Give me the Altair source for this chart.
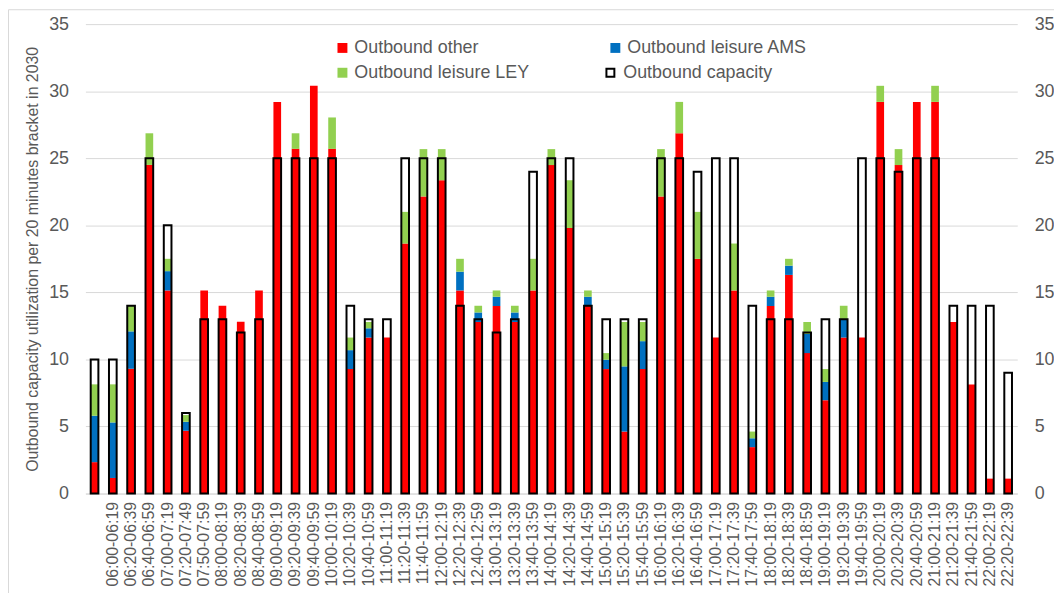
import altair as alt
import pandas as pd

# Time slots (first bar carries no label in the reference)
slots = [" ",
         "06:00-06:19", "06:20-06:39", "06:40-06:59", "07:00-07:19", "07:20-07:49", "07:50-07:59",
         "08:00-08:19", "08:20-08:39", "08:40-08:59", "09:00-09:19", "09:20-09:39", "09:40-09:59",
         "10:00-10:19", "10:20-10:39", "10:40-10:59", "11:00-11:19", "11:20-11:39", "11:40-11:59",
         "12:00-12:19", "12:20-12:39", "12:40-12:59", "13:00-13:19", "13:20-13:39", "13:40-13:59",
         "14:00-14:19", "14:20-14:39", "14:40-14:59", "15:00-15:19", "15:20-15:39", "15:40-15:59",
         "16:00-16:19", "16:20-16:39", "16:40-16:59", "17:00-17:19", "17:20-17:39", "17:40-17:59",
         "18:00-18:19", "18:20-18:39", "18:40-18:59", "19:00-19:19", "19:20-19:39", "19:40-19:59",
         "20:00-20:19", "20:20-20:39", "20:40-20:59", "21:00-21:19", "21:20-21:39", "21:40-21:59",
         "22:00-22:19", "22:20-22:39"]

outbound_other = [2.34, 1.16, 9.3, 24.5, 15.14, 4.68, 15.14, 14.0, 12.8, 15.14,
                  29.2, 25.7, 30.4, 25.7, 9.28, 11.63, 11.63, 18.64, 22.15, 23.36,
                  15.14, 12.79, 13.98, 12.79, 15.14, 24.49, 19.8, 13.98, 9.28, 4.62,
                  9.28, 22.15, 26.86, 17.5, 11.63, 15.14, 3.46, 13.98, 16.3, 10.47,
                  6.96, 11.63, 11.63, 29.2, 24.49, 29.2, 29.2, 12.79, 8.12, 1.11,
                  1.11]

leisure_ams = [3.46, 4.14, 2.79, 0, 1.44, 0.67, 0, 0, 0, 0,
               0, 0, 0, 0, 1.41, 0.69, 0, 0, 0, 0,
               1.4, 0.71, 0.69, 0.71, 0, 0, 0, 0.69, 0.7, 4.86,
               2.08, 0, 0, 0, 0, 0, 0.66, 0.69, 0.69, 1.43,
               1.36, 1.32, 0, 0, 0, 0, 0, 0, 0, 0,
               0]

leisure_ley = [2.34, 2.84, 1.91, 2.36, 0.92, 0.5, 0, 0, 0, 0,
               0, 1.16, 0, 2.34, 0.94, 0.47, 0, 2.36, 3.53, 2.32,
               0.96, 0.5, 0.47, 0.5, 2.36, 1.19, 3.56, 0.47, 0.49, 3.31,
               1.43, 3.53, 2.34, 3.5, 0, 3.5, 0.5, 0.47, 0.51, 0.89,
               0.96, 1.05, 0, 1.2, 1.19, 0, 1.2, 0, 0, 0,
               0]

capacity = [10, 10, 14, 25, 20, 6, 13, 13, 12, 13,
            25, 25, 25, 25, 14, 13, 13, 25, 25, 25,
            14, 13, 12, 13, 24, 25, 25, 14, 13, 13,
            13, 25, 25, 24, 25, 25, 14, 13, 13, 12,
            13, 13, 25, 25, 24, 25, 25, 14, 14, 14,
            9]

series_names = ["Outbound other", "Outbound leisure AMS", "Outbound leisure LEY"]
series_colors = ["#FF0000", "#0070C0", "#92D050"]
y_ticks = [0, 5, 10, 15, 20, 25, 30, 35]

rows = []
for i, s in enumerate(slots):
    for k, vals in enumerate([outbound_other, leisure_ams, leisure_ley]):
        rows.append({"slot": s, "series": series_names[k], "ord": k, "value": vals[i]})
stack_df = pd.DataFrame(rows)
cap_df = pd.DataFrame({"slot": slots, "capacity": capacity, "kind": ["Outbound capacity"] * len(slots)})

TEXT = "#595959"
GRID = "#D9D9D9"
FONT = "Liberation Sans"

x_enc = alt.X("slot:N", sort=slots,
              scale=alt.Scale(paddingInner=0.58, paddingOuter=0.29),
              axis=alt.Axis(title=None, labelAngle=270, labelFontSize=16, labelColor=TEXT,
                            labelPadding=8, ticks=False, domainColor=GRID, domainWidth=1,
                            grid=False, labelOverlap=False))
y_scale = alt.Scale(domain=[0, 35], nice=False)

bars = alt.Chart(stack_df).mark_bar().encode(
    x=x_enc,
    y=alt.Y("value:Q", stack="zero", scale=y_scale,
            axis=alt.Axis(orient="left", values=y_ticks,
                          title="Outbound capacity utilization per 20 minutes bracket in 2030",
                          titleFontSize=16, titleColor=TEXT, titleFontWeight="normal",
                          titlePadding=8, labelFontSize=18, labelColor=TEXT, labelPadding=17,
                          ticks=False, domain=False, gridColor=GRID, gridWidth=1)),
    color=alt.Color("series:N", scale=alt.Scale(domain=series_names, range=series_colors),
                    legend=alt.Legend(title=None, orient="none", legendX=250, legendY=15,
                                      direction="horizontal", columns=2, columnPadding=77,
                                      rowPadding=7, padding=0,
                                      symbolType="square", symbolSize=100, symbolStrokeWidth=0,
                                      labelFontSize=18, labelColor=TEXT, labelLimit=300,
                                      labelOffset=3)),
    order=alt.Order("ord:Q"),
)

cap = alt.Chart(cap_df).mark_bar(fill="#ffffff", fillOpacity=0, strokeWidth=2).encode(
    x=x_enc,
    y=alt.Y("capacity:Q", scale=y_scale,
            axis=alt.Axis(orient="right", values=y_ticks, title=None, labelFontSize=18,
                          labelColor=TEXT, labelPadding=17, ticks=False, domain=False,
                          grid=False)),
    stroke=alt.Stroke("kind:N", scale=alt.Scale(domain=["Outbound capacity"], range=["#000000"]),
                      legend=alt.Legend(title=None, orient="none", legendX=520, legendY=40,
                                        padding=0, symbolType="square", symbolSize=64,
                                        symbolStrokeWidth=2, symbolFillColor="#ffffff",
                                        labelFontSize=18, labelColor=TEXT, labelLimit=300,
                                        labelOffset=4)),
)

frame = alt.Chart(alt.Data(values=[{}])).mark_rect(fillOpacity=0, stroke=GRID, strokeWidth=1).encode(
    x=alt.value(-77.5), x2=alt.value(990), y=alt.value(-14.5), y2=alt.value(600)
)

chart = alt.layer(frame, bars, cap).resolve_scale(y="shared").resolve_axis(y="independent").properties(
    width=939, height=473,
    padding={"left": 78, "top": 14, "right": 37, "bottom": 98},
    autosize=alt.AutoSizeParams(type="none"),
).configure(font=FONT).configure_view(stroke=None)

chart.save("out.html", embed_options={"renderer": "svg", "actions": False})
